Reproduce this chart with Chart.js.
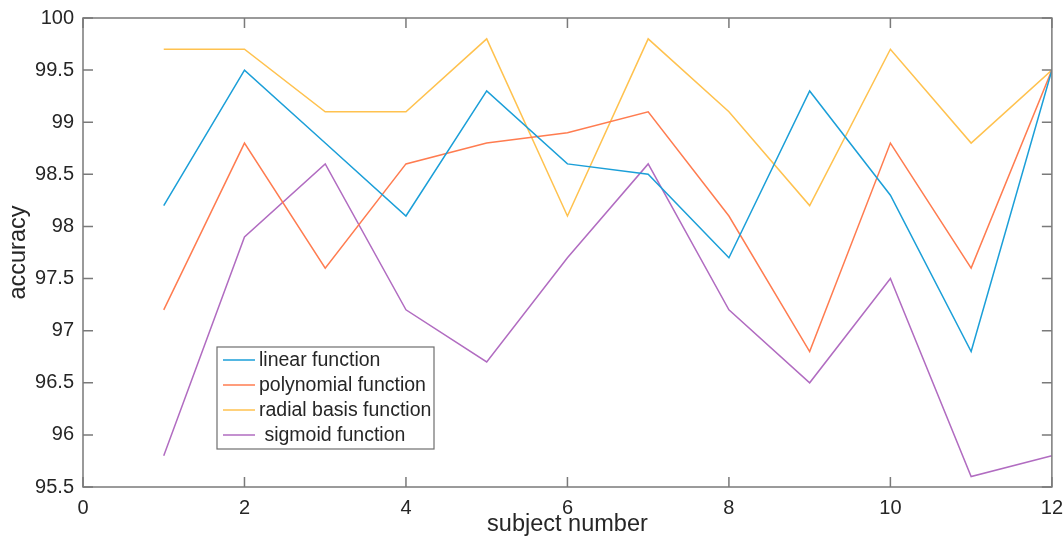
<!DOCTYPE html>
<html>
<head>
<meta charset="utf-8">
<script src="https://cdn.jsdelivr.net/npm/chart.js@4"></script>
<style>
  html, body { margin: 0; padding: 0; background: #fff; }
  #wrap { width: 1064px; height: 541px; }
</style>
</head>
<body>
<div id="wrap"><canvas id="accChart" width="1064" height="541"></canvas></div>
<script>
// subjects and accuracy values per kernel
const subjects = [1, 2, 3, 4, 5, 6, 7, 8, 9, 10, 11, 12];
const linearAcc = [98.2, 99.5, 98.8, 98.1, 99.3, 98.6, 98.5, 97.7, 99.3, 98.3, 96.8, 99.5];
const polyAcc = [97.2, 98.8, 97.6, 98.6, 98.8, 98.9, 99.1, 98.1, 96.8, 98.8, 97.6, 99.5];
const rbfAcc = [99.7, 99.7, 99.1, 99.1, 99.8, 98.1, 99.8, 99.1, 98.2, 99.7, 98.8, 99.5];
const sigmoidAcc = [95.8, 97.9, 98.6, 97.2, 96.7, 97.7, 98.6, 97.2, 96.5, 97.5, 95.6, 95.8];
const seriesNames = ['linear function', 'polynomial function', 'radial basis function', ' sigmoid function'];
const xTicks = [0, 2, 4, 6, 8, 10, 12];
const yTicks = [95.5, 96, 96.5, 97, 97.5, 98, 98.5, 99, 99.5, 100];

const colors = ['#1b9fd8', '#ff7c50', '#ffc24f', '#b16cc1'];
const FONT = '"Liberation Sans", Arial, sans-serif';
const AXIS_COLOR = '#7a7a7a';

function toPoints(vals) {
  return subjects.map((s, i) => ({ x: s, y: vals[i] }));
}

const allSeries = [linearAcc, polyAcc, rbfAcc, sigmoidAcc];

// frame + inward ticks on all four sides, like matlab's box on
const frameTicks = {
  id: 'frameTicks',
  afterDraw(chart) {
    const { ctx, chartArea: a, scales } = chart;
    ctx.save();
    ctx.strokeStyle = AXIS_COLOR;
    ctx.lineWidth = 1.5;
    ctx.strokeRect(a.left, a.top, a.right - a.left, a.bottom - a.top);
    const len = 10;
    ctx.beginPath();
    xTicks.forEach(v => {
      const px = scales.x.getPixelForValue(v);
      ctx.moveTo(px, a.bottom); ctx.lineTo(px, a.bottom - len);
      ctx.moveTo(px, a.top); ctx.lineTo(px, a.top + len);
    });
    yTicks.forEach(v => {
      const py = scales.y.getPixelForValue(v);
      ctx.moveTo(a.left, py); ctx.lineTo(a.left + len, py);
      ctx.moveTo(a.right, py); ctx.lineTo(a.right - len, py);
    });
    ctx.stroke();
    ctx.restore();
  }
};

// legend box sitting inside the plot area
const boxLegend = {
  id: 'boxLegend',
  afterDraw(chart) {
    const ctx = chart.ctx;
    const x0 = 217, y0 = 347, w = 217, h = 102;
    ctx.save();
    ctx.fillStyle = '#fff';
    ctx.fillRect(x0, y0, w, h);
    ctx.strokeStyle = '#6e6e6e';
    ctx.lineWidth = 1.2;
    ctx.strokeRect(x0, y0, w, h);
    ctx.font = '19.5px ' + FONT;
    ctx.textBaseline = 'middle';
    chart.data.datasets.forEach((ds, i) => {
      const y = y0 + 13 + i * 25;
      ctx.strokeStyle = ds.borderColor;
      ctx.lineWidth = 1.5;
      ctx.beginPath();
      ctx.moveTo(x0 + 6, y);
      ctx.lineTo(x0 + 38, y);
      ctx.stroke();
      ctx.fillStyle = '#262626';
      ctx.fillText(ds.label, x0 + 42, y + 1);
    });
    ctx.restore();
  }
};

new Chart(document.getElementById('accChart'), {
  type: 'line',
  data: {
    datasets: allSeries.map((vals, i) => ({
      label: seriesNames[i],
      data: toPoints(vals),
      borderColor: colors[i],
      backgroundColor: colors[i],
      borderWidth: 1.5,
      pointRadius: 0,
      tension: 0,
      fill: false
    }))
  },
  options: {
    responsive: false,
    animation: false,
    layout: { padding: { left: 0, top: 18, right: 9, bottom: 0 } },
    plugins: {
      legend: { display: false },
      tooltip: { enabled: false }
    },
    scales: {
      x: {
        type: 'linear',
        min: 0,
        max: 12,
        grid: { display: false },
        border: { display: false },
        afterBuildTicks: s => { s.ticks = xTicks.map(v => ({ value: v })); },
        afterFit: s => { s.height = 54; },
        ticks: {
          color: '#262626',
          font: { family: FONT, size: 20 },
          padding: 1,
          maxRotation: 0,
          callback: v => String(v)
        },
        title: {
          display: true,
          text: 'subject number',
          color: '#262626',
          font: { family: FONT, size: 23.5 },
          padding: { top: 0, bottom: 2 }
        }
      },
      y: {
        min: 95.5,
        max: 100,
        grid: { display: false },
        border: { display: false },
        afterBuildTicks: s => { s.ticks = yTicks.map(v => ({ value: v })); },
        afterFit: s => { s.width = 83; },
        ticks: {
          color: '#262626',
          font: { family: FONT, size: 20 },
          padding: 1,
          callback: v => String(v)
        },
        title: {
          display: true,
          text: 'accuracy',
          color: '#262626',
          font: { family: FONT, size: 23.5 },
          padding: { top: 4, bottom: 0 }
        }
      }
    }
  },
  plugins: [frameTicks, boxLegend]
});
</script>
</body>
</html>
